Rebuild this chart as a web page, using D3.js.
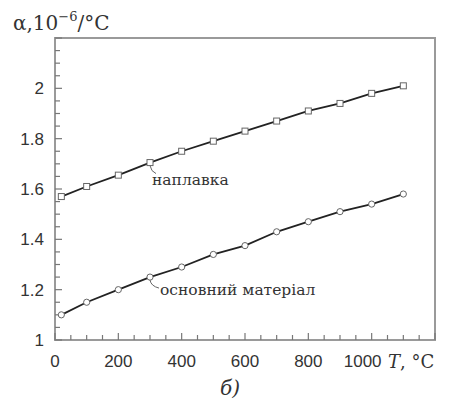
<!DOCTYPE html>
<html>
<head>
<meta charset="utf-8">
<script src="https://cdn.jsdelivr.net/npm/d3@7"></script>
<style>
  html, body { margin: 0; padding: 0; background: #fff; }
  svg { display: block; }
  .tick-label { font-family: "Liberation Sans", Arial, sans-serif; font-size: 17px; fill: #333; }
  .serif { font-family: "DejaVu Serif", "Liberation Serif", serif; fill: #333; }
</style>
</head>
<body>
<div id="chart"></div>
<script>
// Thermal expansion coefficient vs temperature, two series.

const temps = [20, 100, 200, 300, 400, 500, 600, 700, 800, 900, 1000, 1100];
const cladding = [1.57, 1.61, 1.655, 1.705, 1.75, 1.79, 1.83, 1.87, 1.91, 1.94, 1.98, 2.01];   // наплавка
const base = [1.10, 1.15, 1.20, 1.25, 1.29, 1.34, 1.375, 1.43, 1.47, 1.51, 1.54, 1.58];      // основний матеріал
const xTicks = [0, 200, 400, 600, 800, 1000];
const yTicks = [1, 1.2, 1.4, 1.6, 1.8, 2];

const width = 451, height = 409;
const margin = { top: 38, right: 16, bottom: 69, left: 55 };

const svg = d3.select("#chart").append("svg")
  .attr("width", width).attr("height", height);

const x = d3.scaleLinear().domain([0, 1200]).range([margin.left, width - margin.right]);
const y = d3.scaleLinear().domain([1, 2.2]).range([height - margin.bottom, margin.top]);

const x0 = x.range()[0], x1 = x.range()[1];
const y0 = y.range()[0], y1 = y.range()[1];

// frame
svg.append("rect")
  .attr("x", x0).attr("y", y1).attr("width", x1 - x0).attr("height", y0 - y1)
  .attr("fill", "none").attr("stroke", "#9a9a9a").attr("stroke-width", 2);

// inward ticks
const gTicks = svg.append("g").attr("stroke", "#777").attr("stroke-width", 1.2);
d3.range(0, 1201, 50).forEach(v => {
  const len = v % 200 === 0 ? 7 : 5;
  gTicks.append("line").attr("x1", x(v)).attr("x2", x(v)).attr("y1", y0).attr("y2", y0 - len);
});
d3.range(1, 2.201, 0.05).forEach(v => {
  const len = Math.abs(v * 5 - Math.round(v * 5)) < 1e-6 ? 7 : 5;
  gTicks.append("line").attr("x1", x0).attr("x2", x0 + len).attr("y1", y(v)).attr("y2", y(v));
});

// tick labels (1000 nudged left to leave room for the axis title)
svg.append("g").selectAll("text").data(xTicks).join("text")
  .attr("class", "tick-label")
  .attr("x", d => x(d) - (d === 1000 ? 9 : 0)).attr("y", y0 + 27)
  .attr("text-anchor", "middle")
  .text(d => d);

svg.append("g").selectAll("text").data(yTicks).join("text")
  .attr("class", "tick-label")
  .attr("x", x0 - 11).attr("y", d => y(d) + 6)
  .attr("text-anchor", "end")
  .text(d => d3.format("~g")(d));

// axis titles
const yt = svg.append("text").attr("class", "serif")
  .attr("x", 13).attr("y", 30).attr("font-size", 20);
yt.append("tspan").text("α,10");
yt.append("tspan").attr("font-size", 13).attr("dy", -9).text("−6");
yt.append("tspan").attr("dy", 9).text("/°C");

const xt = svg.append("text").attr("class", "serif")
  .attr("x", 388).attr("y", y0 + 28).attr("font-size", 18);
xt.append("tspan").attr("font-style", "italic").text("T");
xt.append("tspan").text(", °C");

svg.append("text").attr("class", "serif")
  .attr("x", 230).attr("y", 395).attr("font-size", 20)
  .attr("font-style", "italic").attr("text-anchor", "middle")
  .text("б)");

// series
const line = d3.line().x(d => x(d[0])).y(d => y(d[1]));
const upper = temps.map((t, i) => [t, cladding[i]]);
const lower = temps.map((t, i) => [t, base[i]]);

[upper, lower].forEach(s => {
  svg.append("path").datum(s).attr("d", line)
    .attr("fill", "none").attr("stroke", "#222").attr("stroke-width", 1.8);
});

svg.append("g").selectAll("rect").data(upper).join("rect")
  .attr("x", d => x(d[0]) - 3).attr("y", d => y(d[1]) - 3)
  .attr("width", 6).attr("height", 6)
  .attr("fill", "#fff").attr("stroke", "#666").attr("stroke-width", 1);

svg.append("g").selectAll("circle").data(lower).join("circle")
  .attr("cx", d => x(d[0])).attr("cy", d => y(d[1])).attr("r", 3.1)
  .attr("fill", "#fff").attr("stroke", "#666").attr("stroke-width", 1);

// labels with leader lines
const labels = [
  { pt: upper[3], text: "наплавка", dx: 2, dy: 22, tail: 6 },
  { pt: lower[3], text: "основний матеріал", dx: 10, dy: 18, tail: 9 }
];
labels.forEach(l => {
  const px = x(l.pt[0]), py = y(l.pt[1]);
  svg.append("path")
    .attr("d", `M${px},${py + 3} Q${px + 1},${py + 9} ${px + l.tail},${py + 11}`)
    .attr("fill", "none").attr("stroke", "#666").attr("stroke-width", 1);
  svg.append("text").attr("class", "serif")
    .attr("x", px + l.dx).attr("y", py + l.dy)
    .attr("font-size", 15.5)
    .text(l.text);
});
</script>
</body>
</html>
